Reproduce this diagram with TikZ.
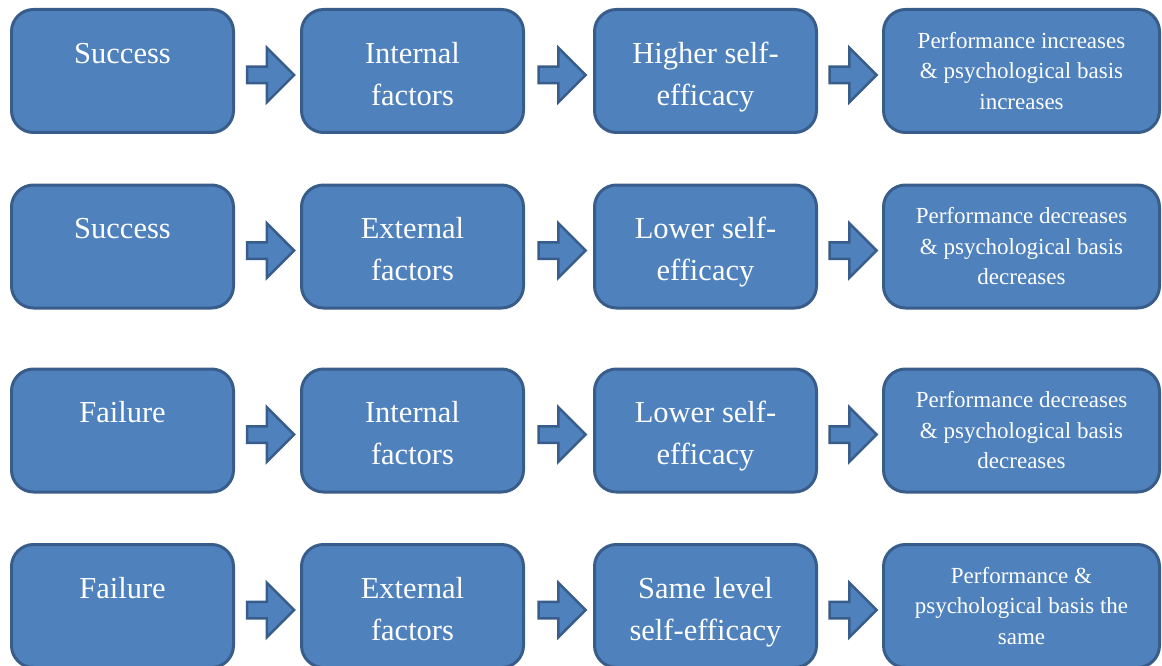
\documentclass[tikz,border=0pt]{standalone}
\usepackage{fontspec}
\setmainfont{Liberation Serif}
\usetikzlibrary{shapes.arrows,calc}
\definecolor{boxfill}{HTML}{4F81BD}
\definecolor{boxline}{HTML}{385D8A}
\tikzset{
  stage/.style={draw=boxline, fill=boxfill, line width=3pt, rounded corners=22pt,
    minimum width=222pt, minimum height=123pt, inner sep=0pt},
  wide/.style={stage, minimum width=276pt},
  txt/.style={anchor=north, inner sep=0pt, text=white, align=center,
    font=\fontsize{30.5}{42}\selectfont},
  small/.style={txt, font=\fontsize{23}{30.5}\selectfont},
  flow/.style={single arrow, draw=boxline, fill=boxfill, line width=2.5pt,
    minimum height=47pt, inner xsep=4pt, inner ysep=7pt, single arrow head extend=19pt},
}
\begin{document}
\begin{tikzpicture}[x=1pt, y=-1pt]
\useasboundingbox (0,0) rectangle (1162,666);
% row 1
\node[stage] (s1) at (122.5,71) {};
\node[stage] (f1) at (412.5,71) {};
\node[stage] (e1) at (705.5,71) {};
\node[wide]  (p1) at (1021.5,71) {};
% row 2
\node[stage] (s2) at (122.5,246.5) {};
\node[stage] (f2) at (412.5,246.5) {};
\node[stage] (e2) at (705.5,246.5) {};
\node[wide]  (p2) at (1021.5,246.5) {};
% row 3
\node[stage] (s3) at (122.5,430.5) {};
\node[stage] (f3) at (412.5,430.5) {};
\node[stage] (e3) at (705.5,430.5) {};
\node[wide]  (p3) at (1021.5,430.5) {};
% row 4
\node[stage] (s4) at (122.5,606) {};
\node[stage] (f4) at (412.5,606) {};
\node[stage] (e4) at (705.5,606) {};
\node[wide]  (p4) at (1021.5,606) {};
% texts
\node[txt] (ts1) at ([yshift=-25.6pt]s1.north) {\strut Success};
\node[txt] (tf1) at ([yshift=-25.6pt]f1.north) {\strut Internal\\factors};
\node[txt] (te1) at ([yshift=-25.6pt]e1.north) {\strut Higher self-\\efficacy};
\node[small] (tp1) at ([yshift=-18.65pt]p1.north) {\strut Performance increases\\\& psychological basis\\increases};
\node[txt] (ts2) at ([yshift=-25.6pt]s2.north) {\strut Success};
\node[txt] (tf2) at ([yshift=-25.6pt]f2.north) {\strut External\\factors};
\node[txt] (te2) at ([yshift=-25.6pt]e2.north) {\strut Lower self-\\efficacy};
\node[small] (tp2) at ([yshift=-18.65pt]p2.north) {\strut Performance decreases\\\& psychological basis\\decreases};
\node[txt] (ts3) at ([yshift=-25.6pt]s3.north) {\strut Failure};
\node[txt] (tf3) at ([yshift=-25.6pt]f3.north) {\strut Internal\\factors};
\node[txt] (te3) at ([yshift=-25.6pt]e3.north) {\strut Lower self-\\efficacy};
\node[small] (tp3) at ([yshift=-18.65pt]p3.north) {\strut Performance decreases\\\& psychological basis\\decreases};
\node[txt] (ts4) at ([yshift=-25.6pt]s4.north) {\strut Failure};
\node[txt] (tf4) at ([yshift=-25.6pt]f4.north) {\strut External\\factors};
\node[txt] (te4) at ([yshift=-25.6pt]e4.north) {\strut Same level\\self-efficacy};
\node[small] (tp4) at ([yshift=-18.65pt]p4.north) {\strut Performance \&\\psychological basis the\\same};
% block arrows between the boxes
\node[flow] (a11) at ([shift={(-1pt,-4pt)}]$(s1.east)!0.5!(f1.west)$) {};
\node[flow] (a12) at ([shift={(-1pt,-4pt)}]$(f1.east)!0.5!(e1.west)$) {};
\node[flow] (a13) at ([shift={(-1pt,-4pt)}]$(e1.east)!0.5!(p1.west)$) {};
\node[flow] (a21) at ([shift={(-1pt,-4pt)}]$(s2.east)!0.5!(f2.west)$) {};
\node[flow] (a22) at ([shift={(-1pt,-4pt)}]$(f2.east)!0.5!(e2.west)$) {};
\node[flow] (a23) at ([shift={(-1pt,-4pt)}]$(e2.east)!0.5!(p2.west)$) {};
\node[flow] (a31) at ([shift={(-1pt,-4pt)}]$(s3.east)!0.5!(f3.west)$) {};
\node[flow] (a32) at ([shift={(-1pt,-4pt)}]$(f3.east)!0.5!(e3.west)$) {};
\node[flow] (a33) at ([shift={(-1pt,-4pt)}]$(e3.east)!0.5!(p3.west)$) {};
\node[flow] (a41) at ([shift={(-1pt,-4pt)}]$(s4.east)!0.5!(f4.west)$) {};
\node[flow] (a42) at ([shift={(-1pt,-4pt)}]$(f4.east)!0.5!(e4.west)$) {};
\node[flow] (a43) at ([shift={(-1pt,-4pt)}]$(e4.east)!0.5!(p4.west)$) {};
\end{tikzpicture}
\end{document}
